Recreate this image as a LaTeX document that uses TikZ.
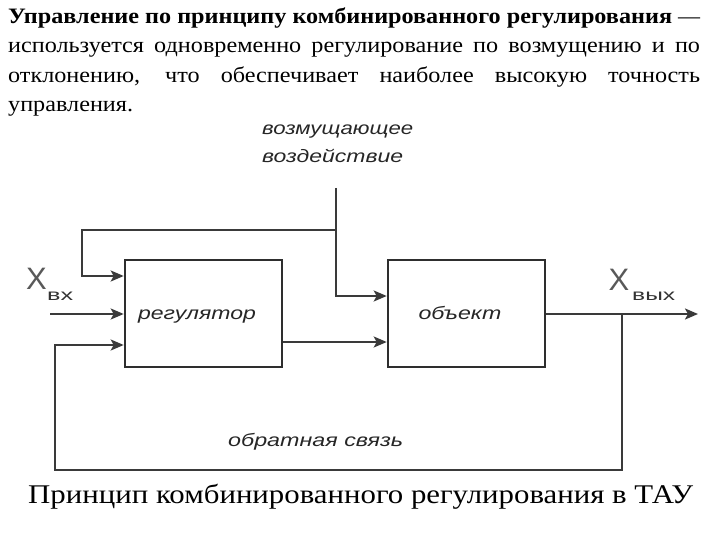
\documentclass[tikz,border=0pt]{standalone}
\usepackage{fontspec}
\setmainfont{Liberation Serif}
\newfontfamily\diagfont{Liberation Sans}
\usetikzlibrary{arrows.meta}
\definecolor{linecol}{HTML}{3A3A3A}
\definecolor{boxcol}{HTML}{2E2E2E}
\newcommand\jline[1]{\scalebox{1.1}[1]{\makebox[629pt][s]{#1}}}
\tikzset{
  blockbox/.style={draw=boxcol, line width=2.6pt, minimum width=157pt, minimum height=107pt, inner sep=0pt},
  wire/.style={draw=linecol, line width=2.2pt},
  arrowwire/.style={wire, -{Stealth[length=13pt,width=11pt,inset=3pt]}},
  dlabel/.style={font=\diagfont\fontsize{18}{20}\selectfont\itshape, inner sep=0pt, text=black!85},
  bigx/.style={font=\diagfont\fontsize{31}{32}\selectfont, inner sep=0pt, text=black!65},
  subx/.style={font=\diagfont\fontsize{16}{18}\selectfont, inner sep=0pt, text=black!80},
  paraline/.style={anchor=base west, inner sep=0pt, font=\fontsize{22}{26}\selectfont},
}
\begin{document}
\begin{tikzpicture}[x=1pt,y=-1pt]
\useasboundingbox (0,0) rectangle (720,540);
% paragraph
\node[paraline] (p1) at (8,24) {\resizebox{664pt}{\height}{\textbf{Управление по принципу комбинированного регулирования}}};
\node[paraline] (p1d) at (678,24) {—};
\node[paraline] (p2) at (8,53) {\jline{используется одновременно регулирование по возмущению и по}};
\node[paraline] (p3) at (8,83) {\jline{отклонению, что обеспечивает наиболее высокую точность}};
\node[paraline] (p4) at (8,112) {\scalebox{1.1}[1]{управления.}};
% disturbance label
\node[dlabel, anchor=base west] (d1) at (262,135) {\resizebox{151pt}{\height}{возмущающее}};
\node[dlabel, anchor=base west] (d2) at (262,163) {\resizebox{141pt}{\height}{воздействие}};
% blocks
\node[blockbox] (reg) at (203.5,313.5) {};
\node[blockbox] (obj) at (466.5,313.5) {};
\node[dlabel, anchor=base] (regt) at (197,319) {\resizebox{118pt}{\height}{регулятор}};
\node[dlabel, anchor=base] (objt) at (460,319) {\resizebox{83pt}{\height}{объект}};
% coordinates
\coordinate (dtop) at (336,188);
\coordinate (dsplit) at (336,230);
\coordinate (ltop) at (82,230);
\coordinate (xin) at (50,314);
\coordinate (xout) at (698,314);
\coordinate (fb) at (622,314);
\coordinate (fbr) at (622,470);
\coordinate (fbl) at (55,470);
% wires
\draw[arrowwire] (dtop) -- (dtop |- 0,296) -- (obj.west |- 0,296);
\draw[arrowwire] (dsplit) -- (ltop) -- (ltop |- 0,276) -- (reg.west |- 0,276);
\draw[arrowwire] (xin) -- (reg.west |- xin);
\draw[arrowwire] (reg.east |- 0,342) -- (obj.west |- 0,342);
\draw[arrowwire] (obj.east |- xout) -- (xout);
\draw[arrowwire] (fb) -- (fbr) -- (fbl) -- (fbl |- 0,345) -- (reg.west |- 0,345);
% X labels
\node[bigx] (xinlab) at (36.5,278.5) {X};
\node[subx, anchor=base west] (xinsub) at (47,300) {\resizebox{26pt}{\height}{вх}};
\node[bigx] (xoutlab) at (619,280) {X};
\node[subx, anchor=base west] (xoutsub) at (632,300) {\resizebox{43pt}{\height}{вых}};
% feedback label
\node[dlabel, anchor=base west] (fbt) at (228,446) {\resizebox{175pt}{\height}{обратная связь}};
% caption
\node[anchor=base west, inner sep=0pt, font=\fontsize{27}{30}\selectfont] (cap) at (28,503) {\resizebox{665pt}{\height}{Принцип комбинированного регулирования в ТАУ}};
\end{tikzpicture}
\end{document}
